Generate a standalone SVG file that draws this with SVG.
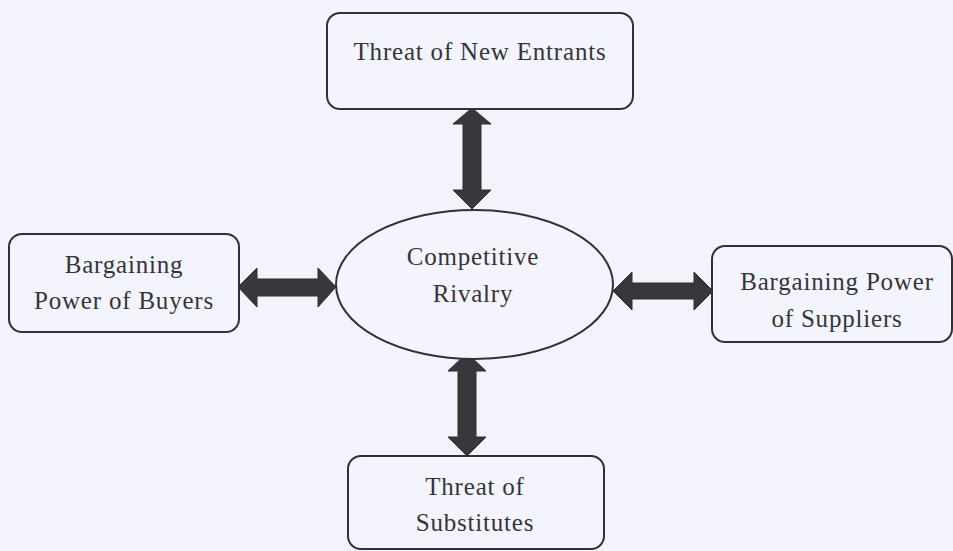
<svg xmlns="http://www.w3.org/2000/svg" width="953" height="551" viewBox="0 0 953 551">
<style>
.bg{fill:#f3f3fb}
.box{fill:#f4f4fc;stroke:#303038;stroke-width:2}
.lbl{font-family:"Liberation Serif","Times New Roman",serif;font-size:25px;fill:#34343c;text-anchor:middle;letter-spacing:0.8px}
.arr{fill:#38383c;stroke:#2e2e32;stroke-width:1}
</style>
<rect class="bg" x="0" y="0" width="953" height="551"/>
<g id="connectors">
<polygon class="arr" points="472,108 491,124 481,124 481,190 491,190 472,209 453,190 463,190 463,124 453,124"/>
<polygon class="arr" points="467,353 486,371 476,371 476,437 486,437 467,456 448,437 458,437 458,371 448,371"/>
<polygon class="arr" points="238,287 257,268 257,279 318,279 318,268 336,287 318,307 318,296 257,296 257,307"/>
<polygon class="arr" points="613,291 632,272 632,283 694,283 694,272 713,291 694,310 694,299 632,299 632,310"/>
</g>
<g id="new-entrants">
<rect class="box" x="327" y="13" width="306" height="96" rx="13"/>
<text class="lbl" x="480" y="60">Threat of New Entrants</text>
</g>
<g id="buyers">
<rect class="box" x="9" y="234" width="230" height="98" rx="13"/>
<text class="lbl" x="124" y="273">Bargaining</text>
<text class="lbl" x="124" y="309">Power of Buyers</text>
</g>
<g id="rivalry">
<ellipse class="box" cx="474.5" cy="284.5" rx="138.5" ry="74.5"/>
<text class="lbl" x="473" y="265">Competitive</text>
<text class="lbl" x="473" y="302">Rivalry</text>
</g>
<g id="suppliers">
<rect class="box" x="712" y="246" width="240" height="96" rx="13"/>
<text class="lbl" x="837" y="290">Bargaining Power</text>
<text class="lbl" x="837" y="327">of Suppliers</text>
</g>
<g id="substitutes">
<rect class="box" x="348" y="456" width="256" height="93" rx="13"/>
<text class="lbl" x="475" y="495">Threat of</text>
<text class="lbl" x="475" y="531">Substitutes</text>
</g>
</svg>
